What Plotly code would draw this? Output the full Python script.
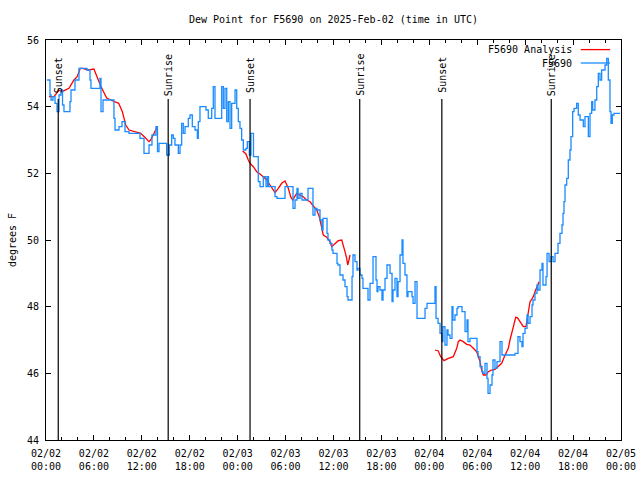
import pandas as pd
import plotly.graph_objects as go

BASE = pd.Timestamp("2025-02-02 00:00")

# F5690 observations: hours since 2025-02-02 00:00 UTC, dew point (F)
obs_hours = [0.13, 0.5, 0.63, 0.88, 1.13, 1.38, 1.63, 1.88, 2.07, 2.25, 3.0, 3.13, 3.63, 4.13, 5.13,
             5.51, 5.63, 6.76, 6.89, 7.14, 8.51, 8.64, 9.14, 9.52, 9.89, 10.39, 11.4, 11.77, 12.27,
             12.9, 13.27, 13.77, 13.96, 14.15, 15.11, 15.44, 15.74, 15.94, 16.15, 16.57, 16.78,
             16.99, 17.19, 17.41, 17.82, 18.03, 18.32, 18.66, 18.95, 19.07, 19.28, 20.03, 20.32,
             20.75, 20.95, 21.16, 22.0, 22.2, 22.41, 22.63, 22.83, 23.04, 23.25, 23.67, 23.88,
             24.08, 24.29, 24.5, 24.71, 25.04, 25.21, 25.46, 25.67, 25.98, 26.58, 26.8, 27.21,
             27.55, 27.74, 27.86, 28.68, 28.93, 29.93, 30.93, 31.18, 31.43, 31.56, 31.81, 32.06,
             32.81, 33.43, 33.68, 33.93, 34.31, 34.56, 34.69, 35.19, 35.31, 35.56, 35.81, 35.94,
             36.44, 36.56, 36.81, 37.19, 37.44, 37.69, 37.82, 38.32, 38.44, 38.69, 38.94, 39.07,
             39.32, 39.57, 39.69, 40.32, 40.57, 40.95, 41.32, 41.45, 41.57, 41.82, 42.07, 42.2,
             42.45, 42.7, 43.08, 43.33, 43.45, 43.7, 43.95, 44.08, 44.33, 44.58, 44.7, 44.95,
             45.2, 45.33, 45.83, 45.96, 46.21, 46.46, 47.46, 47.71, 48.71, 48.84, 49.09, 49.34,
             49.59, 49.71, 49.96, 50.21, 50.34, 50.59, 50.84, 50.96, 51.21, 51.46, 51.59, 52.09,
             52.47, 52.72, 52.84, 53.09, 53.97, 54.1, 54.35, 54.6, 54.72, 54.97, 55.22, 55.35,
             55.6, 55.85, 55.97, 56.22, 56.47, 56.85, 57.1, 58.73, 59.1, 59.35, 59.6, 59.73,
             59.98, 60.23, 60.36, 60.61, 60.86, 60.98, 61.23, 61.48, 61.61, 61.86, 62.11, 62.23,
             62.61, 62.74, 62.99, 63.24, 63.49, 63.74, 64.11, 64.36, 64.61, 64.74, 64.86, 64.99,
             65.2, 65.4, 65.61, 65.74, 65.95, 66.12, 66.45, 66.65, 66.87, 67.28, 67.49, 67.91,
             68.12, 68.33, 68.46, 68.74, 68.96, 69.16, 69.37, 69.58, 70.0, 70.21, 70.41, 70.62,
             70.75, 70.91, 71.12, 71.88]
obs_vals = [54.8, 54.35, 54.2, 54.3, 54.1, 53.85, 54.35, 54.5, 54.05, 53.85, 54.15, 54.5, 54.8, 55.15, 55.1,
            54.8, 54.55, 54.85, 53.85, 54.2, 53.65, 53.3, 53.4, 53.55, 53.25, 53.2, 53.2, 53.05, 52.6,
            52.85, 53.15, 53.4, 52.65, 52.9, 52.55, 52.85, 53.15, 53.05, 52.85, 52.6, 52.85,
            53.5, 53.2, 53.4, 53.65, 53.75, 53.4, 53.3, 53.05, 53.55, 54.0, 53.9, 53.65,
            53.95, 54.6, 53.65, 54.6, 53.95, 54.55, 53.55, 54.15, 53.35, 54.1, 54.5, 53.95,
            53.55, 53.35, 53.0, 52.7, 52.75, 52.95, 52.55, 53.2, 52.5, 51.75, 51.6, 51.9,
            51.6, 51.9, 51.6, 51.3, 51.25, 51.6, 50.95, 51.2, 51.55, 51.25, 51.4, 51.2,
            51.55, 50.75, 50.95, 50.9, 50.6, 50.3, 50.65, 50.2, 50.0, 49.9, 49.7, 49.6,
            49.3, 49.25, 48.95, 48.8, 48.6, 48.3, 48.2, 48.9, 49.55, 49.35, 49.1, 49.15,
            48.95, 48.85, 48.55, 48.2, 48.7, 49.5, 48.8, 48.45, 48.6, 48.5, 48.2, 48.5,
            48.85, 49.25, 49.0, 48.15, 48.5, 48.85, 48.3, 48.75, 49.55, 50.0, 49.3, 48.95,
            48.3, 48.45, 48.3, 48.1, 48.75, 47.65, 47.95, 48.1, 48.6, 47.65, 47.5, 47.2,
            46.95, 47.4, 46.85, 47.3, 47.15, 47.05, 48.0, 47.6, 47.75, 47.95, 48.0, 47.85,
            47.25, 47.6, 46.95, 47.05, 46.65, 46.5, 46.2, 46.05, 46.0, 46.3, 45.85, 45.4,
            45.65, 45.95, 46.4, 46.15, 46.35, 46.95, 46.55, 46.6, 47.1, 46.95, 46.8, 47.2,
            47.35, 47.75, 47.5, 47.7, 48.05, 48.2, 48.4, 48.65, 48.5, 49.1, 49.3, 48.65,
            48.9, 49.6, 49.35, 49.5, 49.35, 49.6, 49.9, 50.2, 50.45, 50.8, 51.15, 51.65,
            51.85, 52.4, 52.7, 53.1, 53.85, 53.95, 54.1, 53.75, 53.6, 53.4, 53.7, 53.1,
            53.8, 54.15, 53.9, 54.2, 54.6, 55.0, 54.8, 55.1, 55.25, 55.45, 54.8, 53.85,
            53.5, 53.75, 53.8, 53.8]

# F5690 Analysis (None = gap)
ana_hours = [0.38, 1.0, 1.63, 2.0, 2.88, 3.5, 3.9, 4.3, 4.6, 5.25, 6.0, 6.4, 6.8, 7.2, 7.6, 8.1, 8.7,
             9.1, 9.56, 9.98, 10.4, 11.0, 11.86, 12.5, 12.9, 13.1, 13.5, 13.94,
             19.0,
             24.63, 25.04, 25.33, 25.54, 25.96, 26.38, 26.8, 27.21, 27.64, 28.05, 28.46, 28.68,
             29.09, 29.51, 29.93, 30.34, 30.64, 30.89, 31.39, 31.81, 32.22, 32.64, 33.06, 33.47,
             33.9, 34.22, 34.52, 34.72, 35.15, 35.56, 35.78, 36.19, 36.6, 37.03, 37.23, 37.44,
             37.65, 37.78, 37.94, 38.07,
             43.0,
             48.71, 49.12, 49.42, 49.84, 50.38, 51.0, 51.43, 51.63, 51.84, 52.25, 52.68, 53.09,
             53.51, 53.93, 54.35, 54.55, 54.77, 55.1, 55.38, 55.81, 56.22, 56.64, 57.06, 57.39,
             57.89, 58.1, 58.31, 58.52, 58.82, 59.02, 59.35, 59.77, 60.1, 60.39, 60.61, 60.82,
             61.02, 61.23, 61.44, 61.73]
ana_vals = [54.3, 54.3, 54.5, 54.45, 54.55, 54.8, 54.9, 55.15, 55.15, 55.1, 55.13, 54.86, 54.65, 54.45,
            54.26, 54.2, 54.15, 54.1, 53.85, 53.45, 53.3, 53.25, 53.2, 53.05, 52.95, 53.0, 53.2, 53.4,
            None,
            52.67, 52.58, 52.4, 52.3, 52.2, 52.05, 51.98, 51.9, 51.8, 51.65, 51.5, 51.42,
            51.55, 51.7, 51.77, 51.55, 51.3, 51.2, 51.4, 51.35, 51.3, 51.2, 51.15, 51.02,
            50.9, 50.7, 50.4, 50.15, 50.08, 49.95, 49.8, 49.9, 49.98, 50.0, 49.85, 49.65,
            49.45, 49.25, 49.4, 49.55,
            None,
            46.7, 46.67, 46.5, 46.38, 46.45, 46.5, 46.75, 46.95, 47.0, 46.95, 46.87, 46.85,
            46.75, 46.65, 46.35, 46.1, 45.95, 45.95, 46.05, 46.1, 46.12, 46.2, 46.3, 46.5,
            46.75, 47.0, 47.2, 47.45, 47.68, 47.67, 47.55, 47.4, 47.4, 47.9, 48.15, 48.22,
            48.3, 48.45, 48.6, 48.75]

sun_times = ["2025-02-02 01:32", "2025-02-02 15:18", "2025-02-03 01:33",
             "2025-02-03 15:17", "2025-02-04 01:34", "2025-02-04 15:16"]
sun_labels = ["Sunset", "Sunrise", "Sunset", "Sunrise", "Sunset", "Sunrise"]

tick_hours = list(range(0, 73, 6))
tick_text = [f"{(BASE + pd.Timedelta(hours=h)):%m/%d}<br>{(BASE + pd.Timedelta(hours=h)):%H:%M}"
             for h in tick_hours]
y_ticks = [44, 46, 48, 50, 52, 54, 56]

FONT = "DejaVu Sans Mono"
BLUE = "#1a8cff"
RED = "#ff0000"

obs_t = BASE + pd.to_timedelta(obs_hours, unit="h")
ana_t = BASE + pd.to_timedelta(ana_hours, unit="h")

fig = go.Figure()
fig.add_trace(go.Scatter(x=ana_t, y=ana_vals, mode="lines", name="F5690 Analysis",
                         line=dict(color=RED, width=1.3), connectgaps=False))
fig.add_trace(go.Scatter(x=obs_t, y=obs_vals, mode="lines", name="F5690",
                         line=dict(color=BLUE, width=1.3, shape="hv")))

for t, lab in zip(sun_times, sun_labels):
    fig.add_shape(type="line", xref="x", yref="paper", x0=t, x1=t, y0=0, y1=0.8525,
                  line=dict(color="black", width=1.2))
    fig.add_annotation(x=t, xref="x", yref="paper", y=0.9125, text=lab, textangle=-90,
                       showarrow=False, font=dict(family=FONT, size=10, color="black"),
                       xanchor="center", yanchor="middle")

# legend (gnuplot style: text right-aligned, key sample to its right)
leg = [("F5690 Analysis", RED, 0.976), ("F5690", BLUE, 0.9425)]
for name, col, yy in leg:
    fig.add_annotation(x=0.918, y=yy, xref="paper", yref="paper", text=name, showarrow=False,
                       xanchor="right", yanchor="middle",
                       font=dict(family=FONT, size=10, color="black"))
    fig.add_shape(type="line", xref="paper", yref="paper", x0=0.930, x1=0.981, y0=yy, y1=yy,
                  line=dict(color=col, width=1.3))

fig.update_layout(
    width=640, height=480,
    margin=dict(l=46, r=19, t=40, b=40, autoexpand=False),
    paper_bgcolor="white", plot_bgcolor="white",
    showlegend=False,
    font=dict(family=FONT, size=10, color="black"),
    title=dict(text="Dew Point for F5690 on 2025-Feb-02 (time in UTC)", x=0.5, xref="paper",
               y=1 - 19 / 480, yref="container", yanchor="middle", xanchor="center",
               font=dict(family=FONT, size=10, color="black")),
)
fig.update_xaxes(
    range=[BASE, BASE + pd.Timedelta(hours=72)], automargin=False,
    tickvals=[BASE + pd.Timedelta(hours=h) for h in tick_hours], ticktext=tick_text,
    ticks="inside", ticklen=5, tickcolor="black", tickwidth=1,
    minor=dict(ticks="inside", ticklen=3, tickcolor="black", tickwidth=1,
               tickvals=[BASE + pd.Timedelta(hours=h) for h in range(0, 73, 2)]),
    showline=True, linecolor="black", linewidth=1, mirror="ticks",
    showgrid=False, zeroline=False, ticklabelstandoff=4,
    tickfont=dict(family=FONT, size=10, color="black"),
)
fig.update_yaxes(
    range=[44, 56], tickvals=y_ticks, ticktext=[str(v) for v in y_ticks], automargin=False,
    ticks="inside", ticklen=5, tickcolor="black", tickwidth=1,
    showline=True, linecolor="black", linewidth=1, mirror="ticks",
    showgrid=False, zeroline=False, ticklabelstandoff=4,
    title=dict(text="degrees F", standoff=8, font=dict(family=FONT, size=10, color="black")),
    tickfont=dict(family=FONT, size=10, color="black"),
)

fig.write_html("out.html", config={"displayModeBar": False},
               post_script="document.body.style.margin='0';document.body.style.padding='0';")
